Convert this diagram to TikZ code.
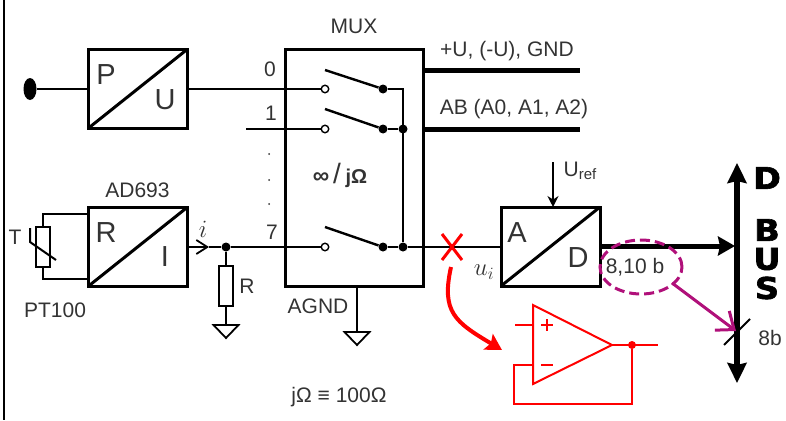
\documentclass[tikz,border=0pt]{standalone}
\usepackage{fontspec}
\setmainfont{Liberation Sans}
\newfontfamily\busfont[BoldFeatures={FakeBold=2}]{DejaVu Sans}
\usetikzlibrary{positioning,arrows.meta,shapes.geometric}
\definecolor{txtgray}{HTML}{333333}
\definecolor{wine}{HTML}{B0107A}

\begin{document}
\begin{tikzpicture}[
    x=1pt, y=-1pt,
    node distance = 10pt,
    every node/.style={text=txtgray, font=\fontsize{21}{23}\selectfont},
    convbox/.style={rectangle, draw=black, line width=3pt, minimum width=99pt, minimum height=79pt, outer sep=0pt},
    bigletter/.style={text=txtgray, font=\fontsize{29}{31}\selectfont},
    contact/.style={circle, draw=black, fill=white, line width=1.4pt, minimum size=7.5pt, inner sep=0pt},
    joint/.style={circle, fill=black, minimum size=9pt, inner sep=0pt},
    wire/.style={line width=1.8pt},
    arm/.style={line width=2.4pt},
    thickwire/.style={line width=5pt},
    resbox/.style={rectangle, draw=black, line width=2.8pt, minimum width=14pt, minimum height=40pt, outer sep=0pt},
    buslabel/.style={text=black, font=\busfont\bfseries\fontsize{30}{30}\selectfont},
    redline/.style={draw=red, line width=2pt},
  ]
  \useasboundingbox (0,0) rectangle (786,420);
  \draw[line width=2pt] (3.5,0) -- (3.5,420);

  % boxes
  \node[convbox] (pu) at (137.5,89) {};
  \node[convbox] (ri) [below=79pt of pu] {};
  \node[convbox, minimum width=138pt, minimum height=236pt] (mux) at (354,168) {};
  \node[convbox] (ad) at (550.5,246.5) {};
  \draw[line width=3pt] (pu.south west) -- (pu.north east);
  \draw[line width=3pt] (ri.south west) -- (ri.north east);
  \draw[line width=3pt] (ad.south west) -- (ad.north east);

  \node[bigletter] at (106,75) {P};
  \node[bigletter] at (165,100) {U};
  \node[bigletter] at (106,233) {R};
  \node[bigletter] at (165,257) {I};
  \node[bigletter] at (517,233) {A};
  \node[bigletter] at (578,258) {D};

  \node (muxname) [above=13pt of mux] {MUX};
  \node (adname) [above=6pt of ri] {AD693};

  % inputs
  \node[ellipse, fill=black, minimum width=13pt, minimum height=22pt, inner sep=0pt] (probe) at (30,89) {};
  \node[contact] (c0) at (325,89) {};
  \node[contact] (c1) at (325,129) {};
  \node[contact] (c7) at (325,247) {};
  \coordinate (open1) at (246,129);
  \draw[wire, line width=2.4pt] (probe) -- (pu.west);
  \draw[wire] (pu.east) -- (c0);
  \draw[wire] (open1) -- (c1);

  \node at (270,69) {0};
  \node at (271,113) {1};
  \node at (272,232) {7};
  \foreach \ydot in {154,180,204}
    \fill[txtgray] (269,\ydot) circle (1pt);

  % switches
  \node[joint] (s0) at (383,89) {};
  \node[joint] (s1) at (383,129) {};
  \node[joint] (s7) at (383,247) {};
  \node[joint] (n1) at (403,129) {};
  \node[joint] (n7) at (403,247) {};
  \coordinate (t0) at (325,70);
  \coordinate (t1) at (325,109);
  \coordinate (t7) at (325,227);
  \draw[arm] (t0) -- (s0);
  \draw[arm] (t1) -- (s1);
  \draw[arm] (t7) -- (s7);
  \draw[wire] (s0) -| (n7);
  \draw[wire] (s1) -- (n1);
  \draw[wire] (s7) -- (n7);

  \node at (340,175) {\fontsize{23}{23}\selectfont\bfseries ∞\,\fontsize{28}{28}\selectfont\mdseries/\,\fontsize{20}{20}\selectfont\bfseries jΩ};

  % supply and address lines
  \coordinate (pwr) at (580,70);
  \coordinate (addr) at (580,129);
  \draw[thickwire] (mux.east |- pwr) -- (pwr);
  \draw[thickwire] (mux.east |- addr) -- (addr);
  \node at (507,51) {+U, (-U), GND};
  \node at (514,109) {AB (A0, A1, A2)};

  % PT100 and R
  \node[resbox] (pt) at (43,247) {};
  \draw[wire] (pt.north) |- (88,214);
  \draw[wire] (pt.south) |- (88,279);
  \coordinate (tc0) at (30,228);
  \coordinate (tc1) at (30,242);
  \coordinate (tc2) at (56,260);
  \draw[line width=2pt] (tc0) -- (tc1) -- (tc2);
  \node at (15,237) {T};
  \node at (55,310) {PT100};

  \node[joint] (jr) at (226,247) {};
  \coordinate (iarrow) at (209,247);
  \draw[wire, -{Straight Barb[length=11pt,width=14pt]}] (ri.east |- iarrow) -- (iarrow);
  \draw[wire] (iarrow) -- (jr);
  \draw[wire] (jr) -- (c7);
  \node[font=\fontsize{26}{26}\selectfont] at (203,229) {$i$};

  \node[resbox] (rr) at (226,286) {};
  \draw[wire] (jr) -- (rr);
  \node at (247,286) {R};
  \coordinate (gr) at (226,325);
  \draw[wire] (rr) -- (gr);
  \draw[wire] (213.5,325) -- (238.5,325) -- (226,338) -- cycle;

  % ground of MUX
  \coordinate (gm) at (357,332);
  \draw[wire] (mux.south -| gm) -- (gm);
  \draw[wire] (344.5,332) -- (369.5,332) -- (357,345) -- cycle;
  \node at (318,306) {AGND};
  \node at (339,397) {jΩ ≡ 100Ω};

  % signal to AD
  \draw[wire] (n7) -- (ad.west |- n7);
  \node[font=\fontsize{26}{26}\selectfont] at (484,272) {$u_i$};
  \coordinate (uref) at (553,162);
  \draw[wire, -{Stealth[length=11pt,width=11pt]}] (uref) -- (ad.north -| uref);
  \node at (580,171) {U\raisebox{-3pt}{\fontsize{15}{15}\selectfont ref}};

  % bus
  \coordinate (bustop) at (737,163);
  \coordinate (busbot) at (737,383);
  \draw[line width=6pt, {Stealth[length=20pt,width=19pt,inset=2pt]}-{Stealth[length=20pt,width=19pt,inset=2pt]}] (bustop) -- (busbot);
  \coordinate (adout) at (735,246);
  \draw[thickwire, -{Stealth[length=17pt,width=19pt,inset=2pt]}] (ad.east |- adout) -- (adout);
  \node[buslabel] at (767,178) {\scalebox{1.12}[1]{D}};
  \node[buslabel] at (767,230) {\scalebox{1.12}[1]{B}};
  \node[buslabel] at (767,259) {\scalebox{1.12}[1]{U}};
  \node[buslabel] at (767,288) {\scalebox{1.12}[1]{S}};
  \draw[line width=2pt] (724,345) -- (750,319);
  \node at (770,338) {8b};

  % width mark
  \node at (635,267) {8,10 b};
  \node[ellipse, draw=wine, line width=3pt, dash pattern=on 10pt off 5pt, minimum width=82pt, minimum height=54pt, inner sep=0pt] (width) at (641,267) {};
  \coordinate (busmark) at (736,331);
  \draw[draw=wine, line width=3pt, -{Straight Barb[length=15pt,width=24pt]}] (672,283) -- (busmark);

  % red part
  \draw[draw=red, line width=3pt] (442,234) -- (462,260);
  \draw[draw=red, line width=3pt] (462,234) -- (442,260);
  \coordinate (curve0) at (451,267);
  \coordinate (curve1) at (502,350);
  \draw[draw=red, line width=4pt, -{Stealth[length=16pt,width=18pt,inset=3pt]}] (curve0) .. controls (441,312) and (455,322) .. (curve1);

  \coordinate (ampa) at (533,305);
  \coordinate (ampb) at (533,384);
  \coordinate (ampc) at (612,345);
  \node[circle, fill=red, minimum size=8pt, inner sep=0pt] (ampout) at (632,345) {};
  \coordinate (ampend) at (658,345);
  \coordinate (inplus) at (515,325);
  \coordinate (back0) at (514,365);
  \coordinate (back1) at (514,404);
  \draw[redline] (ampa) -- (ampb) -- (ampc) -- cycle;
  \draw[redline] (ampc) -- (ampend);
  \draw[redline] (inplus) -- (inplus -| ampa);
  \draw[redline] (back0 -| ampa) -- (back0) -- (back1) -| (ampout);
  \draw[redline] (541,325) -- (553,325);
  \draw[redline] (547,319) -- (547,331);
  \draw[redline] (541,365) -- (553,365);
\end{tikzpicture}
\end{document}
